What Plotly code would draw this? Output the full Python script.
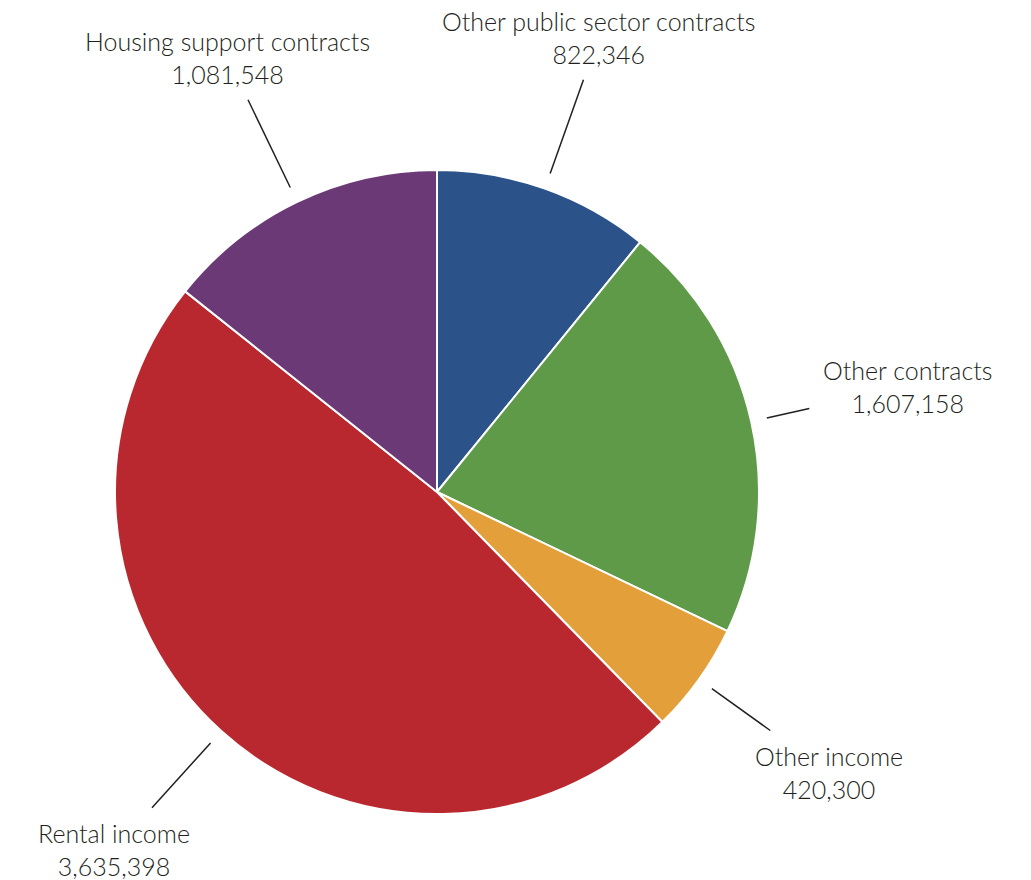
import math
import plotly.graph_objects as go

categories = ["Other public sector contracts", "Other contracts", "Other income",
              "Rental income", "Housing support contracts"]
values = [822346, 1607158, 420300, 3635398, 1081548]
colors = ["#2B5289", "#5E9A48", "#E3A03A", "#BA282F", "#6B3A76"]

W, H = 1031, 880
CX, CY, R = 437, 492, 322
LABEL_R = 482
LINE_R0 = 338
FONT = "Lato, 'Open Sans', sans-serif"
FSIZE = 25
TXT = "#231F20"

fig = go.Figure(go.Pie(
    labels=categories, values=values, sort=False, direction="clockwise", rotation=0,
    marker=dict(colors=colors, line=dict(color="white", width=2)),
    textinfo="none", hoverinfo="label+value", showlegend=False,
    domain=dict(x=[(CX - R) / W, (CX + R) / W], y=[1 - (CY + R) / H, 1 - (CY - R) / H]),
))

total = sum(values)
cum = 0
shapes, annotations = [], []
for name, v in zip(categories, values):
    mid = (cum + v / 2) / total * 2 * math.pi
    cum += v
    ux, uy = math.sin(mid), -math.cos(mid)
    lx, ly = CX + LABEL_R * ux, CY + LABEL_R * uy
    hw = 5.6 * max(len(name), len(f"{v:,}")) + 14
    hh = 42
    cands = []
    if abs(ux) > 1e-6:
        cands.append(hw / abs(ux))
    if abs(uy) > 1e-6:
        cands.append(hh / abs(uy))
    r1 = LABEL_R - min(cands)
    x0, y0 = CX + LINE_R0 * ux, CY + LINE_R0 * uy
    x1, y1 = CX + r1 * ux, CY + r1 * uy
    shapes.append(dict(type="line", xref="paper", yref="paper",
                       x0=x0 / W, y0=1 - y0 / H, x1=x1 / W, y1=1 - y1 / H,
                       line=dict(color=TXT, width=1.5)))
    annotations.append(dict(xref="paper", yref="paper", x=lx / W, y=1 - ly / H,
                            xanchor="center", yanchor="middle", showarrow=False,
                            text=f"{name}<br>{v:,}", align="center",
                            font=dict(family=FONT, size=FSIZE, color=TXT, weight=300)))

fig.update_layout(width=W, height=H, margin=dict(l=0, r=0, t=0, b=0),
                  paper_bgcolor="white", plot_bgcolor="white",
                  shapes=shapes, annotations=annotations)
fig.write_html("out.html")
